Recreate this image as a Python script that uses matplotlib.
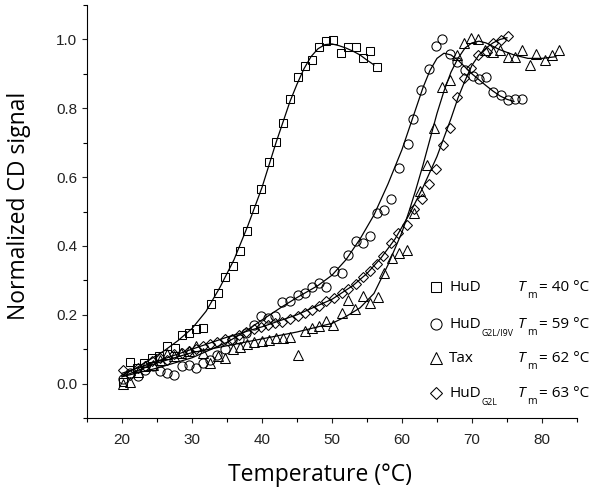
import numpy as np
import matplotlib
matplotlib.use('Agg')
import matplotlib.pyplot as plt
from matplotlib.ticker import MultipleLocator

plt.rcParams['font.family'] = ['Liberation Sans', 'DejaVu Sans']

# HuD (squares)
hud_t = [20.2, 21.2, 22.2, 23.2, 24.3, 25.3, 26.4, 27.5, 28.5, 29.5, 30.6, 31.6, 32.7, 33.7,
         34.7, 35.8, 36.8, 37.8, 38.9, 39.9, 41.0, 42.0, 43.0, 44.0, 45.1, 46.1, 47.2, 48.2,
         49.2, 50.2, 51.3, 52.3, 53.4, 54.4, 55.4, 56.5]
hud_y = [0.005, 0.062, 0.045, 0.06, 0.075, 0.08, 0.108, 0.104, 0.141, 0.147, 0.159, 0.163, 0.231,
         0.262, 0.311, 0.342, 0.386, 0.442, 0.507, 0.566, 0.643, 0.701, 0.758, 0.826, 0.89, 0.923,
         0.94, 0.977, 0.996, 0.998, 0.961, 0.979, 0.979, 0.945, 0.965, 0.92]
hud_fit_t = [20, 22, 24, 26, 28, 30, 32, 34, 36, 38, 40, 42, 44, 45, 46, 47, 48, 49, 50, 51, 52,
             53, 54, 55, 56]
hud_fit_y = [0.025, 0.045, 0.07, 0.095, 0.125, 0.16, 0.21, 0.28, 0.36, 0.46, 0.57, 0.70, 0.82,
             0.87, 0.915, 0.95, 0.973, 0.985, 0.987, 0.982, 0.975, 0.966, 0.955, 0.94, 0.926]

# HuD G2L/I9V (circles)
i9v_t = [20.2, 21.2, 22.3, 23.3, 24.4, 25.4, 26.4, 27.4, 28.5, 29.5, 30.6, 31.6, 32.6, 33.5,
         34.7, 35.7, 36.7, 37.7, 38.8, 39.8, 40.8, 41.9, 42.9, 44.0, 45.1, 46.1, 47.2, 48.2,
         49.2, 50.3, 51.4, 52.3, 53.4, 54.5, 55.4, 56.5, 57.5, 58.5, 59.6, 60.8, 61.6, 62.7,
         63.8, 64.8, 65.7, 66.9, 67.9, 69.0, 70.1, 71.0, 72.0, 73.0, 74.2, 75.2, 76.2, 77.2]
i9v_y = [0.012, 0.03, 0.021, 0.04, 0.05, 0.036, 0.031, 0.026, 0.05, 0.055, 0.045, 0.06, 0.07,
         0.084, 0.10, 0.128, 0.13, 0.147, 0.17, 0.195, 0.19, 0.195, 0.236, 0.239, 0.258, 0.263,
         0.282, 0.292, 0.282, 0.326, 0.321, 0.374, 0.415, 0.408, 0.429, 0.495, 0.505, 0.535,
         0.627, 0.695, 0.77, 0.852, 0.913, 0.98, 1.0, 0.959, 0.935, 0.91, 0.894, 0.885, 0.892,
         0.848, 0.838, 0.824, 0.826, 0.827]
i9v_fit_t = [20, 25, 30, 35, 37.5, 40, 43, 45, 48, 50, 52, 54, 56, 58, 60, 61, 62, 63, 64, 65,
             66, 67, 68, 69, 70, 71, 72, 73, 74, 75, 76]
i9v_fit_y = [0.02, 0.045, 0.075, 0.12, 0.15, 0.185, 0.225, 0.25, 0.285, 0.315, 0.36, 0.42, 0.49,
             0.58, 0.68, 0.74, 0.80, 0.86, 0.91, 0.945, 0.96, 0.955, 0.94, 0.92, 0.90, 0.883,
             0.866, 0.85, 0.836, 0.826, 0.82]

# Tax (triangles)
tax_t = [20.2, 21.2, 22.3, 23.3, 24.4, 25.4, 26.4, 27.4, 28.4, 29.5, 30.5, 31.6, 32.6, 33.7,
         34.7, 35.8, 36.8, 37.9, 38.9, 40.0, 41.0, 42.0, 43.0, 44.0, 45.1, 46.1, 47.1, 48.2,
         49.2, 50.2, 51.4, 52.3, 53.3, 54.4, 55.5, 56.6, 57.5, 58.6, 59.6, 60.7, 61.7, 62.6,
         63.6, 64.6, 65.7, 66.8, 67.8, 68.9, 69.9, 70.8, 71.9, 73.0, 74.0, 75.2, 76.1, 77.1,
         78.3, 79.2, 80.4, 81.4, 82.4]
tax_y = [0.0, 0.005, 0.035, 0.05, 0.055, 0.07, 0.085, 0.08, 0.09, 0.095, 0.11, 0.09, 0.06, 0.08,
         0.075, 0.10, 0.105, 0.115, 0.12, 0.125, 0.128, 0.133, 0.133, 0.135, 0.084, 0.152, 0.162,
         0.166, 0.181, 0.171, 0.206, 0.244, 0.217, 0.256, 0.234, 0.253, 0.321, 0.365, 0.38,
         0.388, 0.495, 0.56, 0.635, 0.742, 0.862, 0.882, 0.954, 0.99, 1.003, 1.0, 0.97, 0.964,
         0.969, 0.95, 0.95, 0.969, 0.925, 0.959, 0.94, 0.954, 0.969]
tax_fit_t = [20, 25, 30, 35, 40, 45, 50, 52, 54, 56, 58, 60, 61, 62, 63, 64, 65, 66, 67, 68, 69,
             70, 71, 72, 73, 74, 76, 78, 80, 82]
tax_fit_y = [0.02, 0.06, 0.09, 0.11, 0.13, 0.15, 0.175, 0.195, 0.22, 0.262, 0.345, 0.44, 0.50,
             0.565, 0.635, 0.71, 0.785, 0.85, 0.905, 0.945, 0.975, 0.99, 0.995, 0.99, 0.98, 0.97,
             0.955, 0.945, 0.945, 0.95]

# HuD G2L (diamonds)
g2l_t = [20.2, 21.2, 22.3, 23.3, 24.3, 25.4, 26.4, 27.4, 28.5, 29.5, 30.6, 31.6, 32.6, 33.6,
         34.7, 35.7, 36.7, 37.7, 38.8, 39.8, 40.8, 41.9, 42.9, 44.0, 45.1, 46.1, 47.2, 48.2,
         49.2, 50.3, 51.4, 52.3, 53.4, 54.5, 55.5, 56.4, 57.3, 58.5, 59.5, 60.7, 61.7, 62.8,
         63.8, 64.9, 65.8, 66.9, 67.8, 68.9, 69.8, 70.9, 72.1, 73.0, 74.1, 75.2]
g2l_y = [0.04, 0.025, 0.045, 0.05, 0.065, 0.075, 0.07, 0.085, 0.09, 0.095, 0.10, 0.11, 0.115,
         0.12, 0.13, 0.13, 0.14, 0.15, 0.16, 0.165, 0.17, 0.175, 0.18, 0.188, 0.195, 0.205, 0.215,
         0.226, 0.239, 0.248, 0.263, 0.275, 0.29, 0.311, 0.328, 0.348, 0.371, 0.408, 0.437,
         0.462, 0.508, 0.537, 0.581, 0.623, 0.693, 0.742, 0.832, 0.887, 0.916, 0.954, 0.964,
         0.99, 0.998, 1.01]
g2l_fit_t = [20, 25, 30, 35, 40, 45, 50, 53, 55, 57, 59, 61, 63, 65, 67, 68, 69, 70, 71, 72, 73,
             74, 75]
g2l_fit_y = [0.03, 0.065, 0.10, 0.135, 0.165, 0.20, 0.245, 0.285, 0.32, 0.365, 0.42, 0.49, 0.57,
             0.66, 0.77, 0.83, 0.88, 0.925, 0.955, 0.975, 0.99, 1.0, 1.005]

names = ['HuD', 'HuD', 'Tax', 'HuD']
name_subs = ['', 'G2L/I9V', '', 'G2L']
tm_vals = [40, 59, 62, 63]

series = [
    (hud_t, hud_y, hud_fit_t, hud_fit_y, 's', 5.8),
    (i9v_t, i9v_y, i9v_fit_t, i9v_fit_y, 'o', 6.6),
    (tax_t, tax_y, tax_fit_t, tax_fit_y, '^', 7.2),
    (g2l_t, g2l_y, g2l_fit_t, g2l_fit_y, 'D', 5.0),
]

fig = plt.figure(figsize=(6.01, 4.94), dpi=100)
ax = fig.add_axes([0.1448, 0.1538, 0.8152, 0.8360])

for t, y, ft, fy, m, ms in series:
    ax.plot(ft, fy, color='black', lw=0.9, zorder=2)
    ax.plot(t, y, ls='none', marker=m, ms=ms, mfc='none', mec='black', mew=0.75, zorder=3)

ax.set_xlim(15, 85)
ax.set_ylim(-0.1, 1.1)
ax.set_xticks(np.arange(20, 81, 10))
ax.set_yticks(np.arange(0, 1.01, 0.2))
ax.set_yticklabels([f'{v:.1f}' for v in np.arange(0, 1.01, 0.2)])
ax.xaxis.set_minor_locator(MultipleLocator(5))
ax.yaxis.set_minor_locator(MultipleLocator(0.1))
ax.tick_params(which='major', direction='out', length=3.5, width=0.8, labelsize=11,
               colors='#222222')
ax.tick_params(which='minor', direction='out', length=3.0, width=0.8)
ax.tick_params(axis='x', which='major', pad=7)
ax.tick_params(axis='y', which='major', pad=3.5)

for s in ['top', 'right']:
    ax.spines[s].set_visible(False)
for s in ['left', 'bottom']:
    ax.spines[s].set_linewidth(0.8)

# axis titles
fig.text(320 / 601, 1 - 475 / 494, 'Temperature (°C)', fontfamily='Open Sans', fontsize=16.5,
         ha='center', va='center')
fig.text(19 / 601, 1 - 206 / 494, 'Normalized CD signal', fontfamily='Open Sans', fontsize=16.5,
         ha='center', va='center', rotation=90)

# legend drawn by hand (axes fractions)
rows_y = [0.317, 0.227, 0.145, 0.060]
leg_ms = [7.5, 8.0, 9.0, 6.2]
sub_dy = 0.022
for (t, y, ft, fy, m, ms), name, sub, tm, ry, lms in zip(series, names, name_subs, tm_vals,
                                                         rows_y, leg_ms):
    ax.plot([0.712], [ry], transform=ax.transAxes, ls='none', marker=m, ms=lms,
            mfc='none', mec='black', mew=0.75, clip_on=False)
    ax.text(0.739, ry, name, transform=ax.transAxes, fontfamily='Open Sans', fontsize=11,
            va='center', ha='left')
    if sub:
        ax.text(0.806, ry - sub_dy, sub, transform=ax.transAxes, fontfamily='Open Sans',
                fontsize=6.3, va='center', ha='left')
    ax.text(0.8796, ry, 'T', transform=ax.transAxes, fontfamily='Open Sans', style='italic',
            fontsize=11, va='center', ha='left')
    ax.text(0.899, ry - 0.02, 'm', transform=ax.transAxes, fontfamily='Open Sans',
            fontsize=7.5, va='center', ha='left')
    ax.text(0.9224, ry, f'= {tm} °C', transform=ax.transAxes, fontfamily='Open Sans',
            fontsize=11, va='center', ha='left')

fig.savefig('out.png', dpi=100)
